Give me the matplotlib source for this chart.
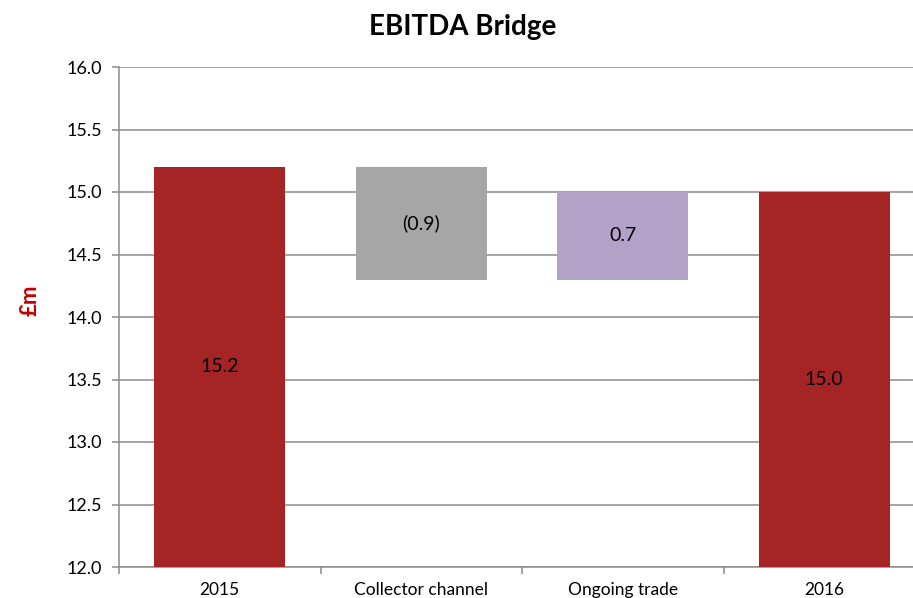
import matplotlib
matplotlib.use("Agg")
import matplotlib.pyplot as plt
import numpy as np

plt.rcParams['font.family'] = ['Lato', 'DejaVu Sans']

categories = ["2015", "Collector channel", "Ongoing trade", "2016"]
start_value = 15.2
changes = [-0.9, 0.7]
end_value = 15.0
labels = ["15.2", "(0.9)", "0.7", "15.0"]
colors = ["#A52426", "#A6A6A6", "#B2A2C7", "#A52426"]
yticks = [12.0, 12.5, 13.0, 13.5, 14.0, 14.5, 15.0, 15.5, 16.0]

ymin = 12.0
# compute waterfall bars
bottoms = [ymin]
heights = [start_value - ymin]
level = start_value
for c in changes:
    new = level + c
    lo, hi = min(level, new), max(level, new)
    bottoms.append(lo)
    heights.append(hi - lo)
    level = new
bottoms.append(ymin)
heights.append(end_value - ymin)

fig = plt.figure(figsize=(9.13, 5.98), dpi=100)
ax = fig.add_axes([119/913, 1-567/598, 806/913, 500/598])

x = np.arange(len(categories))
ax.bar(x, heights, bottom=bottoms, width=0.65, color=colors, zorder=3)
for xi, b, h, lab in zip(x, bottoms, heights, labels):
    ax.text(xi, b + h/2, lab, ha='center', va='center', fontsize=14, color='black', zorder=4)

ax.set_xlim(-0.5, 3.5)
ax.set_ylim(12.0, 16.0)
ax.set_yticks(yticks)
ax.set_yticklabels([f"{v:.1f}" for v in yticks], fontsize=13)
ax.yaxis.grid(True, color='#8C8C8C', linewidth=1.1, zorder=0)
ax.set_axisbelow(True)

ax.set_xticks(x)
ax.set_xticklabels(categories, fontsize=12.5)
ax.tick_params(axis='x', which='major', length=0, pad=11)
ax.set_xticks(np.arange(-0.5, 4.0, 1.0), minor=True)
ax.tick_params(axis='x', which='minor', length=5, color='#8C8C8C', width=1.1)
ax.tick_params(axis='y', length=5, color='#8C8C8C', width=1.1, pad=7)

for s in ['top', 'right']:
    ax.spines[s].set_visible(False)
for s in ['left', 'bottom']:
    ax.spines[s].set_color('#8C8C8C')
    ax.spines[s].set_linewidth(1.1)

fig.text(30/913, 1-300/598, "£m", color='#C00000', fontsize=16, fontweight='bold',
         rotation=90, ha='center', va='center')
fig.text(463/913, 1-27/598, "EBITDA Bridge", ha='center', va='center', fontsize=20, fontweight='bold')

fig.savefig("out.png", dpi=100)
